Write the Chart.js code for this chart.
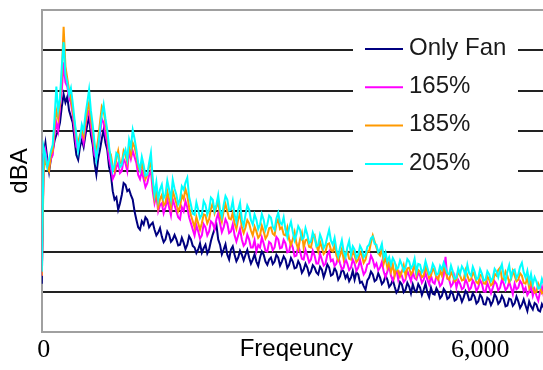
<!DOCTYPE html>
<html>
<head>
<meta charset="utf-8">
<script src="https://cdn.jsdelivr.net/npm/chart.js@4.4.1/dist/chart.umd.min.js"></script>
<style>
html,body{margin:0;padding:0;background:#fff;overflow:hidden;width:543px;height:370px}
#wrap{width:560px;height:370px}
</style>
</head>
<body>
<div id="wrap"><canvas id="c" width="560" height="370"></canvas></div>
<script>
// Frequency bins (Hz), 25 Hz apart
const frequencies = [
0,25,50,75,100,125,150,175,200,225,250,275,300,325,350,375,400,425,450,475,
500,525,550,575,600,625,650,675,700,725,750,775,800,825,850,875,900,925,950,975,
1000,1025,1050,1075,1100,1125,1150,1175,1200,1225,1250,1275,1300,1325,1350,1375,1400,1425,1450,1475,
1500,1525,1550,1575,1600,1625,1650,1675,1700,1725,1750,1775,1800,1825,1850,1875,1900,1925,1950,1975,
2000,2025,2050,2075,2100,2125,2150,2175,2200,2225,2250,2275,2300,2325,2350,2375,2400,2425,2450,2475,
2500,2525,2550,2575,2600,2625,2650,2675,2700,2725,2750,2775,2800,2825,2850,2875,2900,2925,2950,2975,
3000,3025,3050,3075,3100,3125,3150,3175,3200,3225,3250,3275,3300,3325,3350,3375,3400,3425,3450,3475,
3500,3525,3550,3575,3600,3625,3650,3675,3700,3725,3750,3775,3800,3825,3850,3875,3900,3925,3950,3975,
4000,4025,4050,4075,4100,4125,4150,4175,4200,4225,4250,4275,4300,4325,4350,4375,4400,4425,4450,4475,
4500,4525,4550,4575,4600,4625,4650,4675,4700,4725,4750,4775,4800,4825,4850,4875,4900,4925,4950,4975,
5000,5025,5050,5075,5100,5125,5150,5175,5200,5225,5250,5275,5300,5325,5350,5375,5400,5425,5450,5475,
5500,5525,5550,5575,5600,5625,5650,5675,5700,5725,5750,5775,5800,5825,5850,5875,5900,5925,5950,5975,
6000,6025,6050,6075,6100,6125,6150,6175,6200,6225,6250,6275,6300,6325,6350,6375,6400,6425,6450,6475,
6500,6525,6550,6575,6600,6625,6650,6675,6700,6725,6750,6775,6800,6825,6850,6875,6900,6925,6950,6975,
7000];

const seriesNames = ['Only Fan', '165%', '185%', '205%'];

// dBA (one value per frequency bin)
const onlyFan = [
12,44,47,43,39.8,43,45,47.5,49,50,52,56,59,57,58.4,55,53.5,52,47.8,44,
42.8,46,47.8,46,49,51.5,53.5,49,46.5,42,39.1,43,45.3,48,50.2,47,45.3,41,39.1,35,
32.9,33.5,30.4,32,34.1,37,36.6,35,35.4,34,32.9,30,27.9,26,25.4,27.5,26.7,28.5,27.9,26,
26.7,27.2,25.4,24,24.7,25.8,23.7,22.3,23,25,24.2,22.4,23,24.1,23,21.5,21.7,23.4,22.2,20.6,
21.7,23.8,23,21.4,21,19.6,20.5,22,19.7,20.8,21.7,19.5,20.5,22.6,24.2,25.5,26.7,23,21.7,19.3,
20.5,21.8,19.2,18,20.5,21.3,19.2,17.6,18.5,20.2,19.2,17.8,19.2,20.4,18.5,17,18,19.3,17.5,16.4,
18.5,20,19.2,17.5,16.7,18,18.5,16.9,17.5,19.2,18.5,16.5,17.5,18.8,18,15.9,16.7,18.4,17.5,15.8,
16,17.6,16.7,14.7,15.5,17,16,14.2,15,16.6,16,14.8,14.3,16.2,15.5,13.6,15,16.8,16,14,
14.3,15.9,15,13,13.8,15.6,15,13.4,14.3,12.6,13.5,15.2,13,14.8,14.3,12.2,12.5,11.4,10.5,12.8,
13.5,15,14.3,12.6,13,14.6,13.5,11.9,12.5,14,13,11.2,11.8,13,11.3,9.8,10.5,12.4,11.8,9.9,
10.5,12.2,11.3,9.6,11.8,10.4,10,11.9,11,9.2,10.5,12,9.8,8.6,11,9.5,9.3,10.9,10,8.4,
9,10.7,10,8.2,8.6,10.1,9.5,7.8,8.1,9.8,9,7.5,8.6,10.2,9.5,7.9,8.1,9.6,8.8,7.1,
7.6,9.3,8.6,6.9,6.8,8.5,8.1,6.7,7.6,9.4,8.6,7,7.6,9,8.1,6.4,6.6,8.3,8.1,6.5,
7.1,8.8,7.6,6,6.8,8.1,6.6,5.2,7.6,6.4,5.6,7.2,6.8,5.4,5.1,6.9,6,4.9,5.4,6.6,
6.2];

const pct165 = [
14,42,45,42,41,43,44,49,52,50,56,60,67,62,61,58,57,54,50,46,
45.8,48,49,47,51,54,55,51,48,44,43,46,49,53,52,49,47,43,41,38,
39,41,42,39.5,40,43,42,40,45,43,45,43.5,42,39,38,40,38,36,37,39,
40,35,32,34,30,31.5,32,29.5,31,33,31,29,33,31.5,30,28.5,28,31,30,32.5,
31,28.5,27,25.5,24,26.5,25,23.2,24,26.8,26,24,25,27.5,27,25.6,28,29.5,27,24.8,
26,28,27,24.6,25,26.8,24,22.5,24,25.6,23,21.4,22,24.2,23,21,21,22.8,20,21.6,
21,23.5,22,20.2,20,22.4,22,20.3,21,23.6,23,20.8,21,22.9,22,19.8,20,22.2,21,18.8,
19,21.4,20,18.2,18,20.4,19,17.3,18,20.2,19,17,17,19.4,18,16.5,17,19.2,20,17.6,
18,16.4,17,18.8,17,15.6,16,18.2,17,15.4,16,18,17,15.2,16,17.9,16,14.3,15,16.8,
17,19,18,16.2,17,15.3,16,17.4,15,13.6,15,16.4,14,12.8,14,15.6,13,14.8,14,12.4,
13,15.2,14,12.6,15,13.4,13,14.8,14,12.2,13,14.7,13,11.8,14,12.4,12,13.9,13,11.4,
12,14,18.7,13.2,13,11.3,12,13.8,11,12.9,12,10.6,11,13.1,12,10.4,11,12.8,12,10.2,
11,12.9,12,10.1,10,12.2,11,9.6,11,12.6,12,10.3,11,13,12,10.4,11,12.5,11,9.4,
12,10.6,11,12.7,12,10.1,11,9.2,10,11.4,9,10.6,9,7.8,10,11.2,9,10.4,9.5,8.2,
9];

const pct185 = [
14,40,43,41,40,44,45,51,55,53,57,64,75.8,66,63,60,58,55,52,48,
47,49,50,48.5,52,55,57,53,50,46,45,48,52,56,55,52,49,45,44,41,
40,43,45,42,42,45,44,42,46,44,47,46,44,41,40,42,40,38,39,41,
42,37,33,35,31,33,34,31.5,32,35,33,31,35,33.5,32,30,31,34,33,35.5,
34,31,29,27.5,26,28.6,27,25.4,27,29.2,29,27,28,30.6,32,29.5,31,32.4,29,27.4,
30,31.8,30,28.2,28,29.6,27,25.6,28,29.4,26,24.6,26,27.8,27,25.2,24,26.2,25,23.4,
24,26.4,25,23.2,24,25.8,26,24.4,24,26.9,28,25.6,26,24.2,24,25.9,23,21.6,23,24.8,
22,20.6,23,24.6,21,22.8,23,21.2,21,23.4,24,21.6,20,22.4,21,19.4,20,21.8,22,20.4,
20,21.6,19,17.8,19,20.6,18,19.8,20,18.2,18,20.3,19,17.4,18,19.9,19,17.2,18,20.1,
20,22.2,24,22.5,21,19.6,19,20.8,17,18.6,16,17.4,15,16.8,14,16.2,15,13.8,15,16.6,
14,15.8,16,14.3,15,16.9,14,15.4,15,13.6,14,16.2,15,13.4,14,15.8,15,13.6,13,15.2,
14,16.3,15,13.4,13,14.9,14,12.6,13,15.1,14,12.8,13,15.4,14,12.7,13,14.8,14,12.4,
12,14.2,14,12.1,12,13.8,13,11.6,12,14.5,14,15.4,16,13.3,13,15,14,12.4,13,15.2,
14,12.6,13,14.6,14,12.2,12,13.4,11,12.6,11,9.8,10,12,11,9.6,10,11.6,10.5,9.2,
10];

const pct205 = [
15,46,44,41,42.8,45,46.5,53,61,55,58,66,72,64,62,59,60.6,57,52.7,49,
45,48,51.5,50,54,57,60.2,55,51.5,47,42.8,46,50.2,54,56.5,53,50.2,46,42.8,40,
41.5,44.5,44,41,41.5,44,45.3,43,47.8,46,50.2,48,45.3,42,40.3,43.5,41.5,38.8,39.1,42,
44.5,38,34.1,37.2,32.9,35.4,36.6,33.2,34.1,37.6,35.4,33,37.8,35.6,34.1,31.8,32.9,36.2,35.4,37.1,
38.3,33.6,31.6,29.4,29.1,32.2,30.4,28.3,29.1,32.5,31.6,29.2,30.4,33.4,32.9,30.1,31.6,34,30.4,28.6,
31.6,33.8,32.9,30.2,30.4,32.6,29.1,27.4,30.4,32.1,27.9,26.4,29.1,31.4,30.4,27.8,26.7,29.2,27.9,25.6,
26.7,29.3,27.9,25.4,26.7,28.9,28.4,26.1,25.4,28.2,29.6,27.2,26.7,28.5,25.4,23.6,25.9,27.4,24.9,22.8,
24.2,26.3,25.4,23,23.4,25.8,24.2,22.1,22.5,24.7,23.4,21.3,21.7,24.2,23,20.8,21.7,23.6,25.4,22.7,
21.7,23.4,20.5,18.9,21,22.8,20,18.6,21,22.6,19.2,21.3,20.5,18.4,19.2,21.4,20.5,18.6,19.2,21.2,
21.7,23.3,23.7,21.9,21.7,19.8,20.5,21.9,18.5,19.8,17.5,18.6,16.7,18.4,17.5,15.6,16,17.8,16.7,15.2,
16,18.1,17.5,15.8,16.5,18.2,15,16.9,16.7,14.8,15.5,17.6,16,14.4,15,16.9,16,14.2,14.5,16.4,
15.5,17.2,16,14.6,14.3,16.5,15,13.2,13.5,15.8,14.5,16.3,15.5,14,16.7,14.6,14,16.2,15,13.1,
13.5,15.6,14.5,12.8,13,15.1,14.3,12.6,13.5,15.7,15,13.6,15.5,16.8,14,12.7,15,16.6,13.5,15.2,
15.5,13.4,14.3,16.2,17.2,14.8,13.5,15.2,12.5,14.4,11.8,13.6,12.5,10.8,11,13.2,11.8,10.2,11.5,12.8,
11];

const xTickValues = [0, 6000];
const yMin = 0, yMax = 80, yStep = 10;

const seriesValues = [onlyFan, pct165, pct185, pct205];
const seriesColors = ['#000080', '#FF00FF', '#FF9900', '#00FFFF'];
const seriesOrder = [3, 2, 1, 0];

const sansFont = '"Liberation Sans", Arial, Helvetica, sans-serif';
const serifFont = '"Liberation Serif", "Times New Roman", serif';

const insideLegend = {
  id: 'insideLegend',
  beforeDatasetsDraw(chart) {
    const ctx = chart.ctx;
    ctx.save();
    ctx.fillStyle = '#ffffff';
    ctx.fillRect(353, 32, 165, 152);
    ctx.font = '24px ' + sansFont;
    ctx.textBaseline = 'middle';
    ctx.textAlign = 'left';
    chart.data.datasets.forEach((d, i) => {
      const y = 49 + i * 38.3;
      ctx.strokeStyle = d.borderColor;
      ctx.lineWidth = 2;
      ctx.beginPath();
      ctx.moveTo(365, y);
      ctx.lineTo(403, y);
      ctx.stroke();
      ctx.fillStyle = '#1a1a1a';
      ctx.fillText(d.label, 409, y - 1);
    });
    ctx.restore();
  }
};

new Chart(document.getElementById('c'), {
  type: 'line',
  data: {
    datasets: seriesNames.map((name, k) => ({
      label: name,
      data: frequencies.map((f, i) => ({ x: f, y: seriesValues[k][i] })),
      borderColor: seriesColors[k],
      backgroundColor: seriesColors[k],
      borderWidth: 2,
      pointRadius: 0,
      tension: 0,
      fill: false,
      order: seriesOrder[k]
    }))
  },
  options: {
    responsive: false,
    animation: false,
    devicePixelRatio: 1,
    layout: { padding: { top: 10, right: 9, bottom: 4, left: 2 } },
    plugins: { legend: { display: false }, tooltip: { enabled: false } },
    scales: {
      x: {
        type: 'linear',
        min: 0,
        max: 7000,
        afterBuildTicks: s => { s.ticks = xTickValues.map(v => ({ value: v })); },
        ticks: {
          autoSkip: false,
          maxRotation: 0,
          padding: 3,
          labelOffset: 2,
          color: '#000',
          font: { family: serifFont, size: 26 },
          callback: v => v.toLocaleString('en-US')
        },
        grid: { display: false, drawTicks: false },
        border: { color: '#a0a0a0', width: 2 },
        title: {
          display: true,
          text: 'Freqeuncy',
          color: '#000',
          font: { family: sansFont, size: 24 },
          padding: { top: -34, bottom: 2 }
        }
      },
      y: {
        min: yMin,
        max: yMax,
        ticks: { stepSize: yStep, display: false },
        grid: {
          drawTicks: false,
          lineWidth: 2,
          color: c => (c.tick.value === yMin || c.tick.value === yMax) ? '#a0a0a0' : '#222222'
        },
        border: { color: '#a0a0a0', width: 2 },
        title: {
          display: true,
          text: 'dBA',
          color: '#000',
          font: { family: sansFont, size: 24 },
          padding: { top: 4, bottom: 7 }
        }
      }
    }
  },
  plugins: [insideLegend]
});
</script>
</body>
</html>
